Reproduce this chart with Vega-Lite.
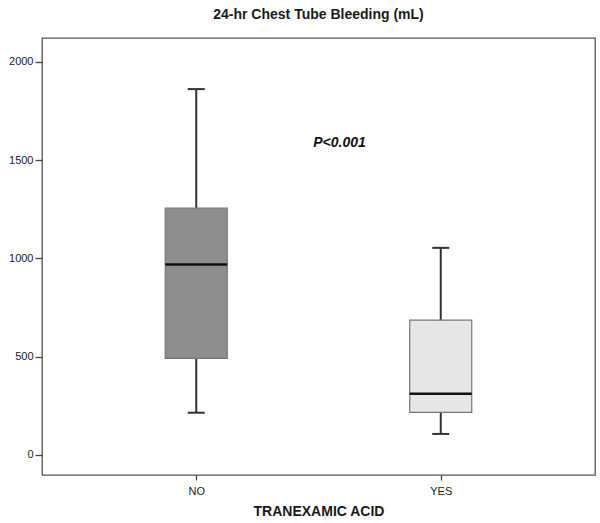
{
  "$schema": "https://vega.github.io/schema/vega-lite/v6.json",
  "width": 553,
  "height": 437,
  "autosize": {"type": "none"},
  "padding": {"left": 42, "top": 38, "right": 5, "bottom": 48},
  "background": "white",
  "title": {"text": "24-hr Chest Tube Bleeding (mL)", "font": "Liberation Sans", "fontSize": 14, "fontWeight": "bold", "color": "#1a1a1a", "offset": 16, "anchor": "middle"},
  "config": {
    "view": {"stroke": "#555555", "strokeWidth": 1.3},
    "axis": {"labelFont": "Liberation Sans", "titleFont": "Liberation Sans", "grid": false, "domain": false, "tickColor": "#444444", "labelColor": "#222222", "tickWidth": 1.3}
  },
  "data": {"values": [
    {"group": "NO", "pos": 1, "lower": 215, "q1": 492, "median": 969, "q3": 1256, "upper": 1862},
    {"group": "YES", "pos": 2, "lower": 107, "q1": 217, "median": 311, "q3": 686, "upper": 1054}
  ]},
  "encoding": {
    "x": {"field": "pos", "type": "quantitative", "scale": {"domain": [0.3896, 2.6104], "nice": false, "zero": false},
      "axis": {"values": [1, 2], "labelExpr": "datum.value == 1 ? 'NO' : 'YES'", "title": "TRANEXAMIC ACID", "titleFontSize": 14, "titleFontWeight": "bold", "titleColor": "#1a1a1a", "labelFontSize": 11, "tickSize": 5, "labelPadding": 5, "titlePadding": 8}}
  },
  "layer": [
    {
      "mark": {"type": "rule", "color": "#333333", "strokeWidth": 2},
      "encoding": {
        "y": {"field": "lower", "type": "quantitative", "scale": {"domain": [-102, 2122], "nice": false, "zero": false},
          "axis": {"values": [0, 500, 1000, 1500, 2000], "format": "d", "title": null, "labelFontSize": 11, "tickSize": 7, "labelPadding": 2}},
        "y2": {"field": "upper"}
      }
    },
    {
      "mark": {"type": "bar", "size": 62, "stroke": "#777777", "strokeWidth": 1.2},
      "encoding": {
        "y": {"field": "q1", "type": "quantitative"},
        "y2": {"field": "q3"},
        "fill": {"field": "group", "type": "nominal", "scale": {"domain": ["NO", "YES"], "range": ["#8e8e8e", "#e6e6e6"]}, "legend": null}
      }
    },
    {
      "mark": {"type": "tick", "orient": "horizontal", "size": 62, "thickness": 2.5, "color": "#111111", "opacity": 1},
      "encoding": {"y": {"field": "median", "type": "quantitative"}}
    },
    {
      "mark": {"type": "tick", "orient": "horizontal", "size": 17, "thickness": 2, "color": "#333333", "opacity": 1},
      "encoding": {"y": {"field": "lower", "type": "quantitative"}}
    },
    {
      "mark": {"type": "tick", "orient": "horizontal", "size": 17, "thickness": 2, "color": "#333333", "opacity": 1},
      "encoding": {"y": {"field": "upper", "type": "quantitative"}}
    },
    {
      "data": {"values": [{"label": "P<0.001", "px": 1.586, "py": 1589}]},
      "mark": {"type": "text", "font": "Liberation Sans", "fontSize": 14, "fontWeight": "bold", "fontStyle": "italic", "color": "#111111", "align": "center", "baseline": "middle"},
      "encoding": {
        "x": {"field": "px", "type": "quantitative"},
        "y": {"field": "py", "type": "quantitative"},
        "text": {"field": "label"}
      }
    }
  ]
}
